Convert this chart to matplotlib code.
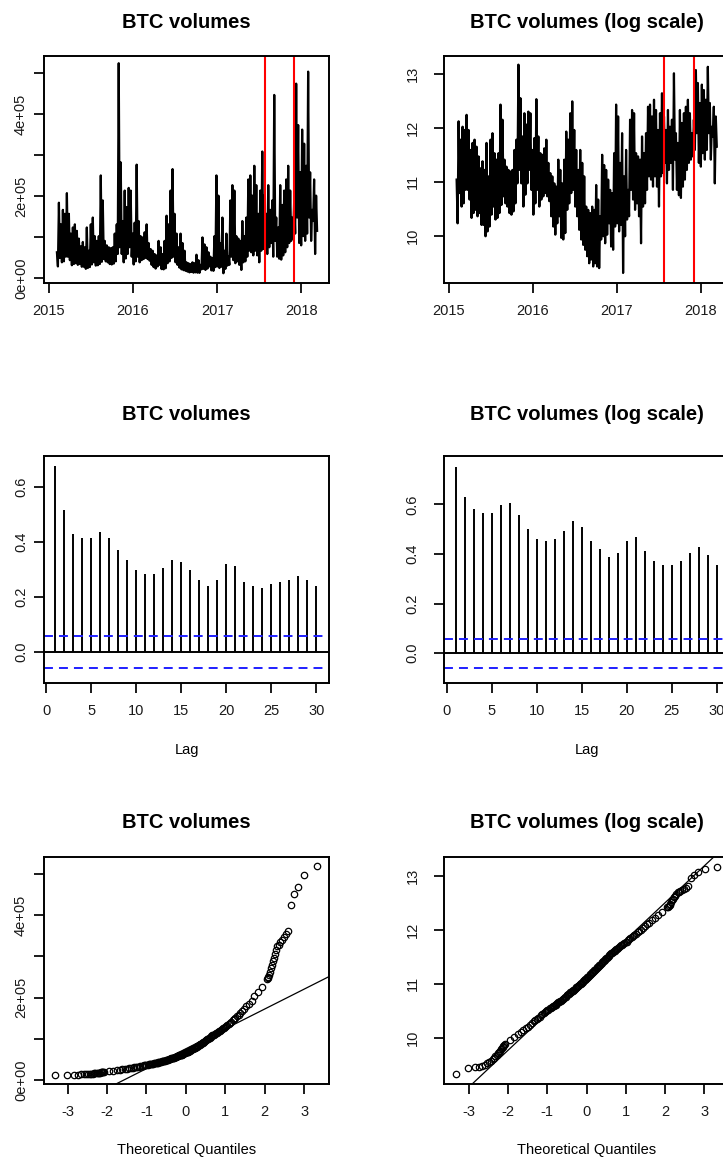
import numpy as np
import matplotlib.pyplot as plt
from statistics import NormalDist

plt.rcParams['font.family'] = ['Liberation Sans', 'DejaVu Sans']
plt.rcParams['axes.unicode_minus'] = False

W, H = 723, 1158

# daily BTC trade volume on log scale: upper / lower edge of the daily swings,
# one pair roughly every 9 days, early Feb 2015 -> early Mar 2018
log_high = [
    11.04, 12.12, 11.78, 12.02, 11.96, 12.24, 11.96, 11.59, 11.72, 11.78,
    11.65, 11.47, 11.25, 11.38, 11.22, 11.72, 11.10, 11.78, 11.90, 11.53,
    11.41, 11.53, 12.43, 12.15, 11.41, 11.28, 11.22, 11.19, 11.22, 11.59,
    11.78,
    13.17, 12.55, 11.84, 12.27, 12.06, 12.30, 12.27, 11.59, 11.81, 12.53,
    11.84, 11.53, 11.50, 11.62, 11.78, 11.35, 11.16, 11.10, 10.97, 10.91,
    11.41, 11.22, 10.97, 11.41, 11.93, 11.78, 12.27, 12.49, 11.96, 11.59,
    11.22, 11.59, 11.35,
    11.10, 10.54, 10.48, 10.42, 10.54, 10.48, 10.94, 10.67, 10.36, 11.50,
    11.31, 11.22, 11.04, 10.85, 10.79, 11.53, 12.43, 12.21, 11.35, 11.90,
    11.10, 11.59, 10.85, 12.15, 12.33, 12.27, 11.53, 11.47, 11.41, 11.84,
    11.53, 11.90, 12.39,
    12.43, 12.21, 12.52, 12.33, 11.96, 12.27, 12.64, 12.21, 11.96, 12.33,
    12.02, 12.15, 13.01, 11.90, 11.72, 12.33, 12.09, 12.27, 12.39, 12.52,
    12.27, 11.90, 12.15, 13.07, 12.83, 12.46, 12.80, 12.70, 12.52, 13.13,
    12.46, 12.02, 12.39, 12.21,
]
log_low = [
    10.23, 10.79, 10.54, 10.60, 10.85, 10.85, 10.67, 10.33, 10.42, 10.48,
    10.36, 10.42, 10.20, 10.20, 9.99, 10.08, 10.17, 10.39, 10.54, 10.30,
    10.33, 10.42, 10.57, 10.73, 10.60, 10.54, 10.42, 10.39, 10.45, 10.60,
    10.97,
    11.22, 10.97, 10.54, 10.76, 10.97, 11.22, 10.85, 10.39, 10.60, 10.85,
    10.54, 10.67, 10.73, 10.79, 10.73, 10.64, 10.36, 10.17, 10.02, 10.23,
    10.36, 9.96, 9.93, 10.05, 10.48, 10.60, 10.79, 10.85, 10.54, 10.36,
    10.11, 9.93, 9.83,
    9.74, 9.62, 9.49, 9.56, 9.43, 9.49, 9.43, 9.40, 9.93, 9.99,
    9.86, 10.02, 10.23, 9.80, 9.74, 10.17, 10.23, 10.08, 10.20, 9.31,
    9.99, 10.30, 10.36, 10.85, 10.67, 10.48, 10.60, 10.36, 9.86, 10.54,
    10.60, 10.85, 11.10,
    11.04, 10.91, 11.10, 10.91, 10.54, 11.10, 11.16, 11.35, 10.97, 11.22,
    11.35, 10.85, 11.41, 10.85, 10.75, 10.70, 10.91, 11.04, 11.22, 11.35,
    11.41, 11.47, 11.59, 11.90, 11.35, 11.28, 11.53, 11.41, 11.59, 11.90,
    11.41, 11.84, 10.97, 11.65,
]
date_first, date_last = 2015.095, 2018.19
split_dates = [2017.565, 2017.92]
years = [2015, 2016, 2017, 2018]

# sorted daily log volumes (1140 days), every day in the tails and
# every 8th day in the body, listed by rank
n_days = 1140
sorted_ranks = np.r_[1:22, 22:1119:8, 1119:1141]
sorted_log_vol = [
    # ranks 1..21
    9.32, 9.43, 9.45, 9.46, 9.48, 9.50, 9.52, 9.54, 9.57, 9.60,
    9.62, 9.65, 9.68, 9.71, 9.73, 9.76, 9.78, 9.80, 9.82, 9.84, 9.86,
    # ranks 22..566, step 8
    9.88, 9.95, 10.01, 10.06, 10.10, 10.14, 10.17, 10.20, 10.24, 10.27,
    10.30, 10.32, 10.35, 10.37, 10.39, 10.42, 10.44, 10.46, 10.48, 10.50,
    10.51, 10.52, 10.54, 10.55, 10.56, 10.58, 10.59, 10.60, 10.61, 10.62,
    10.64, 10.65, 10.66, 10.67, 10.68, 10.70, 10.71, 10.72, 10.74, 10.75,
    10.76, 10.78, 10.79, 10.80, 10.81, 10.82, 10.84, 10.85, 10.86, 10.87,
    10.88, 10.89, 10.90, 10.92, 10.93, 10.94, 10.95, 10.96, 10.98, 10.99,
    11.00, 11.01, 11.02, 11.03, 11.05, 11.06, 11.07, 11.08, 11.09,
    # ranks 574..1118, step 8
    11.11, 11.12, 11.13, 11.14, 11.16, 11.17, 11.18, 11.20, 11.21, 11.22,
    11.24, 11.25, 11.26, 11.27, 11.29, 11.30, 11.31, 11.33, 11.34, 11.35,
    11.37, 11.38, 11.40, 11.41, 11.42, 11.44, 11.45, 11.47, 11.48, 11.50,
    11.51, 11.53, 11.54, 11.56, 11.57, 11.59, 11.60, 11.61, 11.63, 11.64,
    11.65, 11.66, 11.68, 11.69, 11.71, 11.72, 11.74, 11.75, 11.77, 11.78,
    11.80, 11.82, 11.84, 11.86, 11.88, 11.90, 11.92, 11.95, 11.97, 12.00,
    12.03, 12.06, 12.10, 12.13, 12.17, 12.22, 12.27, 12.33, 12.41,
    # ranks 1119..1140
    12.42, 12.43, 12.45, 12.48, 12.51, 12.54, 12.57, 12.60, 12.63, 12.66,
    12.69, 12.70, 12.72, 12.74, 12.76, 12.78, 12.80, 12.96, 13.02, 13.06,
    13.12, 13.16,
]

# sample autocorrelations, lags 1..30
lags = np.arange(1, 31)
acf_vol = [0.675, 0.515, 0.428, 0.413, 0.413, 0.435, 0.413, 0.370, 0.333, 0.297,
           0.282, 0.282, 0.304, 0.333, 0.326, 0.297, 0.261, 0.239, 0.261, 0.319,
           0.312, 0.253, 0.239, 0.232, 0.246, 0.253, 0.261, 0.275, 0.261, 0.239]
acf_logvol = [0.749, 0.629, 0.581, 0.565, 0.565, 0.597, 0.605, 0.557, 0.501, 0.461,
              0.453, 0.461, 0.493, 0.533, 0.509, 0.453, 0.421, 0.389, 0.405, 0.453,
              0.469, 0.413, 0.373, 0.357, 0.357, 0.373, 0.405, 0.429, 0.397, 0.357]
acf_bound = 0.058

raw_ticks = [0, 1e5, 2e5, 3e5, 4e5, 5e5]
raw_labels = ['0e+00', '', '2e+05', '', '4e+05', '']
log_ticks = [10, 11, 12, 13]
acf_ticks = [0.0, 0.2, 0.4, 0.6]
lag_ticks = [0, 5, 10, 15, 20, 25, 30]
qq_ticks = [-3, -2, -1, 0, 1, 2, 3]

log_vol = np.column_stack([log_high, log_low]).ravel()
vol = np.exp(log_vol)
t = np.linspace(date_first, date_last, len(vol))

nd = NormalDist()
sorted_log_vol = np.array(sorted_log_vol)
theo_q = np.array([nd.inv_cdf((r - 0.5) / n_days) for r in sorted_ranks])


def qq_line(values):
    # R's qqline: through the sample quartiles (type 7)
    h = (n_days - 1) * np.array([0.25, 0.75]) + 1
    q1, q3 = np.interp(h, sorted_ranks, values)
    z1, z3 = nd.inv_cdf(0.25), nd.inv_cdf(0.75)
    slope = (q3 - q1) / (z3 - z1)
    return q1 - slope * z1, slope


fig = plt.figure(figsize=(W / 100, H / 100), dpi=100)

cols = [(44.3, 329.3), (444, 729)]
rows = [(56, 282.7), (456, 682.7), (857.3, 1084)]
ypads = [4.8, 10.5]
title_base = [27.5, 420, 828.3]


def panel(c, r, title):
    x0, x1 = cols[c]
    y0, y1 = rows[r]
    ax = fig.add_axes([x0 / W, 1 - y1 / H, (x1 - x0) / W, (y1 - y0) / H])
    for s in ax.spines.values():
        s.set_linewidth(1.4)
    ax.tick_params(direction='out', length=7, width=1.4, labelsize=10.5,
                   colors='#1a1a1a')
    ax.tick_params(axis='x', pad=8)
    ax.tick_params(axis='y', pad=ypads[c])
    fig.text((x0 + x1) / 2 / W, 1 - title_base[r] / H, title, ha='center',
             va='baseline', fontsize=14.5, fontweight='bold')
    return ax


def rotate_ylabels(ax):
    for lab in ax.get_yticklabels():
        lab.set_rotation(90)
        lab.set_va('center')


def xlabel(c, ybase, text):
    x0, x1 = cols[c]
    fig.text((x0 + x1) / 2 / W, 1 - ybase / H, text, ha='center',
             va='baseline', fontsize=10.5)


titles = ['BTC volumes', 'BTC volumes (log scale)']
series = [vol, log_vol]
sorted_series = [np.exp(sorted_log_vol), sorted_log_vol]
acfs = [acf_vol, acf_logvol]

# row 1: the series over time, with the two split dates
ts_ylim = [(-0.12e5, 5.42e5), (9.13, 13.33)]
for c in range(2):
    ax = panel(c, 0, titles[c])
    ax.plot(t, series[c], color='black', lw=1.6)
    for d in split_dates:
        ax.axvline(d, color='red', lw=1.5)
    ax.set_xlim(2014.945, 2018.335)
    ax.set_ylim(*ts_ylim[c])
    ax.set_xticks(years)
    ax.set_xticklabels([str(y) for y in years])
    if c == 0:
        ax.set_yticks(raw_ticks)
        ax.set_yticklabels(raw_labels)
    else:
        ax.set_yticks(log_ticks)
        ax.set_yticklabels([str(v) for v in log_ticks])
    rotate_ylabels(ax)

# row 2: autocorrelation functions
acf_xlim = [(-0.19, 31.45), (-0.3, 31.37)]
acf_ylim = [(-0.113, 0.712), (-0.119, 0.795)]
for c in range(2):
    ax = panel(c, 1, titles[c])
    ax.vlines(lags, 0, acfs[c], color='black', lw=1.4)
    ax.axhline(0, color='black', lw=1.4)
    for b in (acf_bound, -acf_bound):
        ax.axhline(b, color='#1f1fff', lw=1.4, ls=(0, (4.6, 3.1)))
    ax.set_xlim(*acf_xlim[c])
    ax.set_ylim(*acf_ylim[c])
    ax.set_xticks(lag_ticks)
    ax.set_xticklabels([str(v) for v in lag_ticks])
    ax.set_yticks(acf_ticks)
    ax.set_yticklabels(['%.1f' % v for v in acf_ticks])
    rotate_ylabels(ax)
    xlabel(c, 754, 'Lag')

# row 3: normal QQ plots with the quartile line
qq_xlim = [(-3.59, 3.64), (-3.63, 3.63)]
qq_ylim = [(-0.1e5, 5.41e5), (9.14, 13.34)]
for c in range(2):
    ax = panel(c, 2, titles[c])
    ax.plot(theo_q, sorted_series[c], 'o', mfc='none', mec='black', ms=4.6,
            mew=0.9)
    icpt, slope = qq_line(sorted_series[c])
    ax.axline((0, icpt), slope=slope, color='black', lw=0.9)
    ax.set_xlim(*qq_xlim[c])
    ax.set_ylim(*qq_ylim[c])
    ax.set_xticks(qq_ticks)
    ax.set_xticklabels([str(v) for v in qq_ticks])
    if c == 0:
        ax.set_yticks(raw_ticks)
        ax.set_yticklabels(raw_labels)
    else:
        ax.set_yticks(log_ticks)
        ax.set_yticklabels([str(v) for v in log_ticks])
    rotate_ylabels(ax)
    xlabel(c, 1154, 'Theoretical Quantiles')

fig.savefig('out.png', dpi=100)
